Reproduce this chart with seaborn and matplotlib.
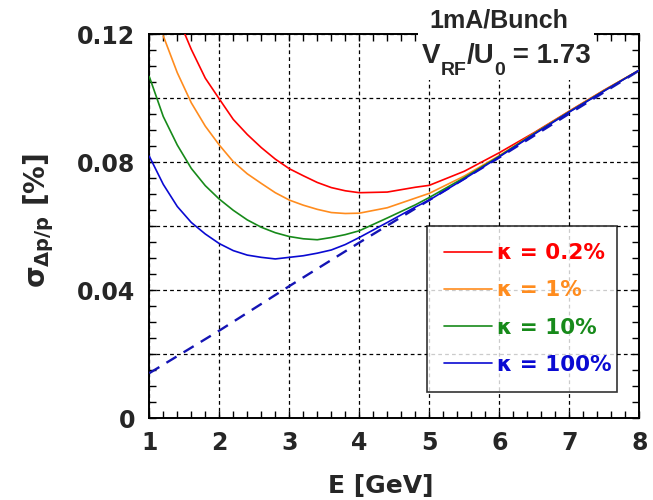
import numpy as np
import pandas as pd
import matplotlib
matplotlib.use("Agg")
import matplotlib.pyplot as plt
from matplotlib.patches import Rectangle
from matplotlib.ticker import MultipleLocator, FuncFormatter
import seaborn as sns

# Energy grid [GeV]
energy = [1.0, 1.2, 1.4, 1.6, 1.8, 2.0, 2.2, 2.4, 2.6, 2.8, 3.0, 3.2, 3.4,
          3.6, 3.8, 4.0, 4.4, 4.8, 5.0, 5.5, 6.0, 6.5, 7.0, 7.5, 8.0]

# Energy spread [%] for each coupling ratio (NaN = not computed)
sigma_k02 = [np.nan, np.nan, np.nan, 0.1153, 0.1063, 0.0998, 0.0934, 0.0887,
             0.0846, 0.0810, 0.0780, 0.0758, 0.0737, 0.0721, 0.0711, 0.0705,
             0.0707, 0.0722, 0.0728, 0.0772, 0.0830, 0.0893, 0.0960, 0.1026,
             0.1088]
sigma_k1 = [np.nan, 0.1195, 0.1080, 0.0986, 0.0913, 0.0854, 0.0802, 0.0764,
            0.0734, 0.0705, 0.0682, 0.0666, 0.0653, 0.0643, 0.0640, 0.0641,
            0.0658, 0.0688, 0.0703, 0.0757, 0.0821, 0.0891, 0.0959, 0.1025,
            0.1088]
sigma_k10 = [0.1068, 0.0943, 0.0854, 0.0781, 0.0727, 0.0685, 0.0650, 0.0620,
             0.0597, 0.0580, 0.0568, 0.0561, 0.0558, 0.0565, 0.0574, 0.0586,
             0.0626, 0.0667, 0.0690, 0.0752, 0.0819, 0.0890, 0.0958, 0.1024,
             0.1088]
sigma_k100 = [0.0819, 0.0731, 0.0662, 0.0612, 0.0576, 0.0546, 0.0524, 0.0510,
              0.0503, 0.0498, 0.0503, 0.0508, 0.0516, 0.0526, 0.0543, 0.0565,
              0.0612, 0.0660, 0.0682, 0.0748, 0.0817, 0.0888, 0.0957, 0.1023,
              0.1088]
# Point at E=1.5 for the 0.2% curve, where it leaves the frame
extra_e, extra_k02 = 1.5, 0.1205

# Natural (zero-current) energy spread
energy_nat = [1, 2, 3, 4, 5, 6, 7, 8]
sigma_nat = [0.0141, 0.0274, 0.0413, 0.0549, 0.0682, 0.0815, 0.0952, 0.1087]

kappa_labels = ["κ = 0.2%", "κ = 1%", "κ = 10%", "κ = 100%"]
colors = ["#ff0000", "#ff8c1e", "#178a1a", "#0a0ad2"]

sns.set_style("ticks")
plt.rcParams["font.family"] = ["DejaVu Sans"]
plt.rcParams["font.weight"] = "bold"

rows = []
for lab, vals in zip(kappa_labels, [sigma_k02, sigma_k1, sigma_k10, sigma_k100]):
    for e, v in zip(energy, vals):
        if not np.isnan(v):
            rows.append({"E": e, "sigma": v, "kappa": lab})
rows.append({"E": extra_e, "sigma": extra_k02, "kappa": kappa_labels[0]})
df = pd.DataFrame(rows).sort_values(["kappa", "E"])
nat = pd.DataFrame({"E": energy_nat, "sigma": sigma_nat})

W, H = 653, 500
fig = plt.figure(figsize=(W / 100, H / 100), dpi=100)
ax = fig.add_axes([0.2286, 0.1634, 0.7504, 0.768])

sns.lineplot(data=nat, x="E", y="sigma", ax=ax, color="#1414b4",
             linewidth=1.7, linestyle=(0, (5, 3.5)), zorder=3)
sns.lineplot(data=df, x="E", y="sigma", hue="kappa", hue_order=kappa_labels,
             palette=colors, ax=ax, linewidth=1.2, sort=True, zorder=4,
             estimator=None)

ax.set_xlim(1, 8)
ax.set_ylim(0, 0.12)
ax.xaxis.set_major_locator(MultipleLocator(1))
ax.xaxis.set_minor_locator(MultipleLocator(0.2))
ax.yaxis.set_major_locator(MultipleLocator(0.02))
ax.yaxis.set_minor_locator(MultipleLocator(0.005))


def ylab(v, pos):
    k = int(round(v / 0.02))
    if k % 2:
        return ""
    return "0" if k == 0 else f"{v:.2f}"


ax.yaxis.set_major_formatter(FuncFormatter(ylab))
ax.grid(True, which="major", color="black", linestyle=(0, (3, 2.5)),
        linewidth=0.9)
ax.tick_params(which="both", direction="in", top=True, right=True,
               width=1.0, color="black")
ax.tick_params(which="major", length=5, labelsize=17)
ax.tick_params(axis="y", which="major", pad=10)
ax.tick_params(axis="x", which="major", pad=9)
ax.tick_params(which="minor", length=5)
for lbl in ax.get_xticklabels() + ax.get_yticklabels():
    lbl.set_fontweight("bold")
for s in ax.spines.values():
    s.set_linewidth(1.4)
    s.set_color("black")

ax.set_xlabel("E [GeV]", fontsize=18, fontweight="bold")
ax.xaxis.set_label_coords((381 - 149.3) / 490, (418.3 - 474) / 384)
ax.set_ylabel(r"σ$\mathregular{_{Δp/p}}$ [%]", fontsize=20,
              fontweight="bold")
ax.yaxis.set_label_coords((56 - 149.3) / 490, (418.3 - 220) / 384)

leg = ax.legend(loc="upper left", bbox_to_anchor=(0.567, 0.084, 0.387, 0.417),
                mode="expand", frameon=True, fancybox=False, fontsize=15.5,
                handlelength=2.2, handletextpad=0.25, borderaxespad=0,
                labelspacing=0.8, borderpad=0.8, title=None)
leg.get_frame().set_edgecolor("black")
leg.get_frame().set_linewidth(1.2)
for txt, c in zip(leg.get_texts(), colors):
    txt.set_color(c)
    txt.set_fontweight("bold")

# Beam-condition annotation in the upper right corner
fig.add_artist(Rectangle((418 / W, 1 - 80 / H), 176 / W, 48 / H,
                         transform=fig.transFigure, facecolor="white",
                         edgecolor="none", zorder=5))
fig.text(499 / W, 1 - 28 / H, "1mA/Bunch", ha="center", va="baseline",
         fontsize=18, fontweight="bold", family="Liberation Sans", zorder=6)

fig.canvas.draw()
renderer = fig.canvas.get_renderer()
pieces = [("V", 20, 63), ("RF", 14, 75), ("/U", 20, 63), ("0", 14, 75),
          (" = 1.73", 20, 63)]
x = 422.0
for s, size, base in pieces:
    t = fig.text(x / W, 1 - base / H, s, ha="left", va="baseline",
                 fontsize=size, fontweight="bold", family="Liberation Sans",
                 zorder=6)
    x += t.get_window_extent(renderer).width

fig.savefig("out.png", dpi=100)
